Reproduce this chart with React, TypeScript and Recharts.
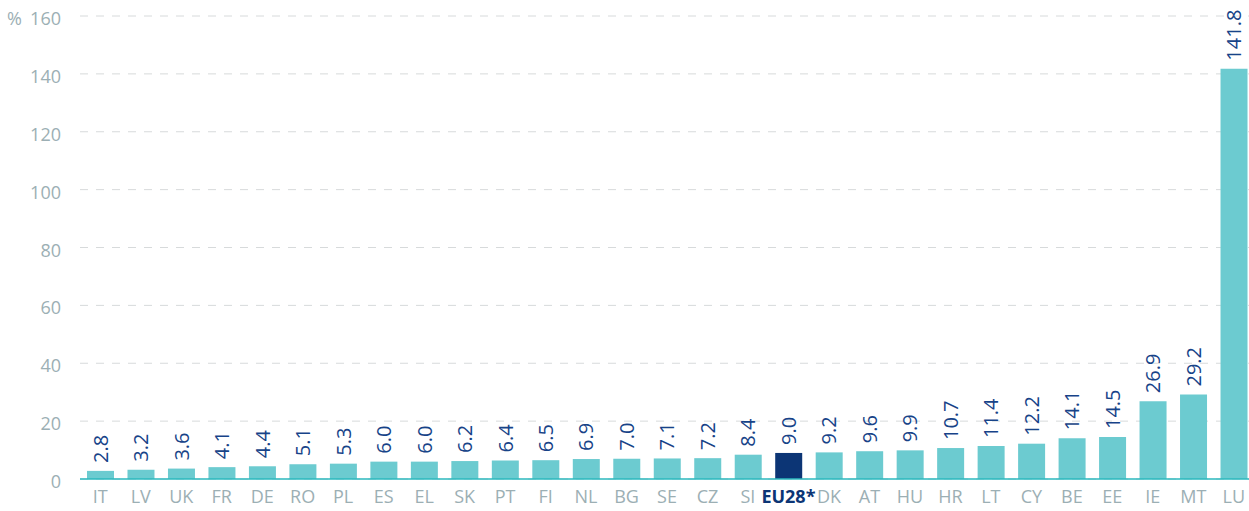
import React from 'react';
import { BarChart, Bar, XAxis, YAxis, CartesianGrid, Cell, LabelList } from 'recharts';

const categories = ['IT','LV','UK','FR','DE','RO','PL','ES','EL','SK','PT','FI','NL','BG','SE','CZ','SI','EU28*','DK','AT','HU','HR','LT','CY','BE','EE','IE','MT','LU'];
const values = [2.8,3.2,3.6,4.1,4.4,5.1,5.3,6.0,6.0,6.2,6.4,6.5,6.9,7.0,7.1,7.2,8.4,9.0,9.2,9.6,9.9,10.7,11.4,12.2,14.1,14.5,26.9,29.2,141.8];
const yTicks = [0,20,40,60,80,100,120,140,160];
const highlight = 'EU28*';

const data = categories.map((c, i) => ({ name: c, value: values[i] }));

const TEAL = '#6ccbd0';
const NAVY = '#0c3575';
const LABEL = '#174388';
const GREY = '#9cafb4';
const FONT = '"Open Sans", sans-serif';

const YTick = (props: any) => {
  const { x, y, payload } = props;
  return (
    <g>
      {payload.value === 160 && (
        <text x={x - 54} y={y} dy={9} fill={GREY} fontSize={18} fontFamily={FONT} textAnchor="start">%</text>
      )}
      <text x={x} y={y} dy={9} fill={GREY} fontSize={18} fontFamily={FONT} textAnchor="end">{payload.value}</text>
    </g>
  );
};

const XTick = (props: any) => {
  const { x, y, payload } = props;
  const hl = payload.value === highlight;
  return (
    <text x={x} y={y} dy={24} fill={hl ? NAVY : GREY} fontWeight={hl ? 700 : 400} fontSize={18} fontFamily={FONT} textAnchor="middle">{payload.value}</text>
  );
};

const ValueLabel = (props: any) => {
  const { x, y, width, value } = props;
  const cx = x + width / 2;
  const cy = y - 8;
  return (
    <text x={cx} y={cy} dy="0.36em" transform={`rotate(-90, ${cx}, ${cy})`} fill={LABEL} fontSize={20} fontFamily={FONT} textAnchor="start">{Number(value).toFixed(1)}</text>
  );
};

export default function App() {
  return (
    <div style={{ position: 'absolute', left: 0, top: 0 }}>
      <BarChart width={1254} height={511} data={data} margin={{ top: 16, right: 0, left: 0, bottom: 0 }} barSize={27}>
        <CartesianGrid vertical={false} stroke="#d7dadb" strokeDasharray="8 8" />
        <YAxis domain={[0, 160]} ticks={yTicks} width={80} axisLine={false} tickLine={false} tickSize={0} tickMargin={19} tick={<YTick />} interval={0} />
        <XAxis dataKey="name" height={32} interval={0} tickLine={false} tickSize={0} tickMargin={0} axisLine={{ stroke: '#2bb9be', strokeWidth: 1.5 }} tick={<XTick />} />
        <Bar dataKey="value" isAnimationActive={false}>
          {data.map((d) => (
            <Cell key={d.name} fill={d.name === highlight ? NAVY : TEAL} />
          ))}
          <LabelList dataKey="value" content={<ValueLabel />} />
        </Bar>
      </BarChart>
    </div>
  );
}
